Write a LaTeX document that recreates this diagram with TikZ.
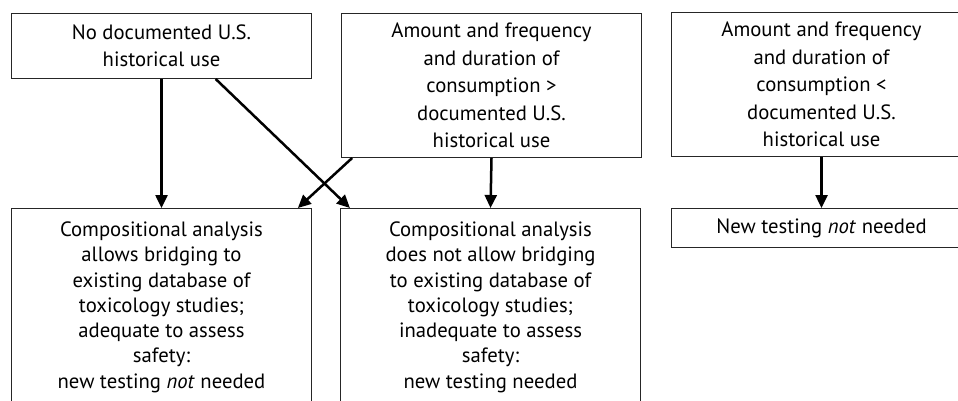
\documentclass[tikz,border=0pt]{standalone}
\usepackage{fontspec}
\setmainfont{PT Sans}
\usetikzlibrary{arrows.meta,calc}
\begin{document}
\begin{tikzpicture}[x=1pt,y=-1pt,
  box/.style={draw=black!85, line width=1pt, minimum width=300pt, inner sep=0pt,
    anchor=north west, align=center, font=\fontsize{20.7}{27.5}\selectfont},
  bodytext/.style={anchor=north, inner sep=0pt, align=center,
    font=\fontsize{20.7}{25.3}\selectfont},
  arr/.style={line width=2.5pt, -{Triangle[length=13pt,width=12pt]}}
]
\useasboundingbox (0,0) rectangle (958,401);
\clip (0,0) rectangle (958,401);

% upper row: starting situations
\node[box, minimum height=65pt] (A) at (11,13) {No documented U.S.\\historical use};
\node[box, minimum height=144pt] (B) at (341,13)
  {Amount and frequency\\and duration of\\consumption >\\documented U.S.\\historical use};
\node[box, minimum height=144pt] (C) at (671,12)
  {Amount and frequency\\and duration of\\consumption <\\documented U.S.\\historical use};

% lower row: outcomes
\node[box, minimum height=220pt] (D) at (11,208) {};
\node[bodytext] (Dt) at ($(D.north)+(0,13.5)$)
  {Compositional analysis\\allows bridging to\\existing database of\\toxicology studies;\\adequate to assess\\safety:\\new testing \emph{not} needed};
\node[box, minimum height=220pt] (E) at (340,208) {};
\node[bodytext] (Et) at ($(E.north)+(0,13.5)$)
  {Compositional analysis\\does not allow bridging\\to existing database of\\toxicology studies;\\inadequate to assess\\safety:\\new testing needed};
\node[box, minimum height=39pt] (F) at (671,208) {New testing \emph{not} needed};

% connectors
\draw[arr] (A.south) -- (D.north);
\draw[arr] ($(A.south west)!0.68!(A.south east)$) -- ($(E.north west)!0.033!(E.north east)$);
\draw[arr] ($(B.south west)!0.037!(B.south east)$) -- ($(D.north west)!0.953!(D.north east)$);
\draw[arr] (B.south) -- (E.north);
\draw[arr] (C.south) -- (F.north);
\end{tikzpicture}
\end{document}
